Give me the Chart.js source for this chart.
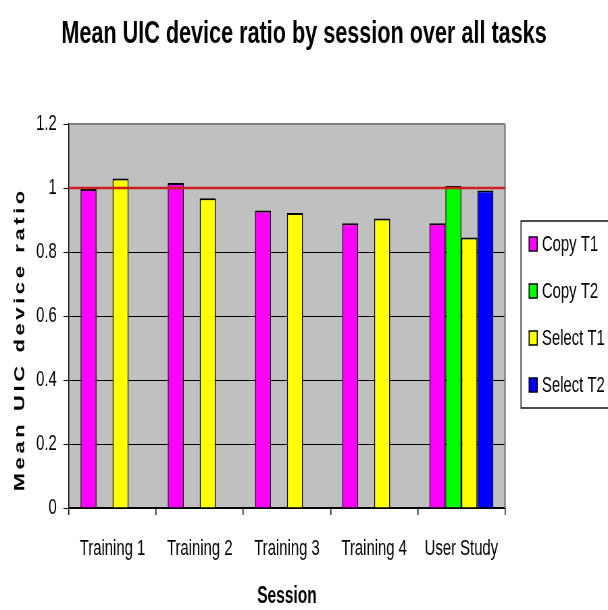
<!DOCTYPE html>
<html>
<head>
<meta charset="utf-8">
<script src="https://cdn.jsdelivr.net/npm/chart.js@4.4.1/dist/chart.umd.min.js"></script>
<style>
  html, body { margin: 0; padding: 0; background: #ffffff; }
</style>
</head>
<body>
<canvas id="chart" width="900" height="610" style="display:block;width:608px;height:610px"></canvas>
<script>
const sessions = ["Training 1", "Training 2", "Training 3", "Training 4", "User Study"];
const copyT1 = [0.997, 1.016, 0.93, 0.89, 0.89];
const copyT2 = [null, null, null, null, 1.006];
const selectT1 = [1.03, 0.968, 0.922, 0.905, 0.845];
const selectT2 = [null, null, null, null, 0.992];
const seriesNames = ["Copy T1", "Copy T2", "Select T1", "Select T2"];
const seriesColors = ["#ff00ff", "#00ff00", "#ffff00", "#0000ff"];
const referenceValue = 1;
const yMin = 0;
const yMax = 1.2;
const yStep = 0.2;

const chartTitle = "Mean UIC device ratio by session over all tasks";
const xTitle = "Session";
const yTitle = "Mean UIC device ratio";

// the reference is squeezed sideways, so the canvas is wider than the page
const SQUEEZE = 608 / 900;
const FONT = "'Liberation Sans', Arial, sans-serif";

const plotBackground = {
  id: "plotBackground",
  beforeDraw(chart) {
    const { ctx, chartArea } = chart;
    ctx.save();
    ctx.fillStyle = "#c0c0c0";
    ctx.fillRect(chartArea.left, chartArea.top, chartArea.width, chartArea.height);
    ctx.restore();
  },
  beforeDatasetsDraw(chart) {
    const { ctx, chartArea } = chart;
    ctx.save();
    ctx.strokeStyle = "#808080";
    ctx.lineWidth = 2;
    ctx.beginPath();
    ctx.moveTo(chartArea.left, chartArea.top);
    ctx.lineTo(chartArea.right, chartArea.top);
    ctx.stroke();
    ctx.lineWidth = 2.5;
    ctx.beginPath();
    ctx.moveTo(chartArea.right, chartArea.top);
    ctx.lineTo(chartArea.right, chartArea.bottom);
    ctx.stroke();
    ctx.restore();
  },
};

const referenceLine = {
  id: "referenceLine",
  afterDatasetsDraw(chart) {
    const { ctx, chartArea, scales } = chart;
    const y = scales.y.getPixelForValue(referenceValue);
    ctx.save();
    ctx.strokeStyle = "#cc1f1f";
    ctx.lineWidth = 2.5;
    ctx.beginPath();
    ctx.moveTo(chartArea.left, y);
    ctx.lineTo(chartArea.right, y);
    ctx.stroke();
    ctx.restore();
  },
};

// page title, centred on the whole picture (not on the plot)
const pageTitle = {
  id: "pageTitle",
  afterDraw(chart) {
    const { ctx, width } = chart;
    ctx.save();
    ctx.font = `bold 32px ${FONT}`;
    ctx.fillStyle = "#000";
    ctx.textAlign = "center";
    ctx.textBaseline = "alphabetic";
    ctx.fillText(chartTitle, width / 2, 43);
    ctx.restore();
  },
};

const spacedYTitle = {
  id: "spacedYTitle",
  afterDraw(chart) {
    const { ctx } = chart;
    const spacing = 3.6;
    ctx.save();
    ctx.font = `bold 22px ${FONT}`;
    ctx.fillStyle = "#000";
    ctx.textBaseline = "middle";
    ctx.textAlign = "left";
    ctx.translate(20 / SQUEEZE, 341);
    ctx.rotate(-Math.PI / 2);
    const chars = Array.from(yTitle);
    const widths = chars.map((c) => ctx.measureText(c).width);
    const total = widths.reduce((a, b) => a + b, 0) + spacing * (chars.length - 1);
    let x = -total / 2;
    chars.forEach((c, i) => {
      ctx.fillText(c, x, 0);
      x += widths[i] + spacing;
    });
    ctx.restore();
  },
};

const boxedLegend = {
  id: "boxedLegend",
  afterDraw(chart) {
    const { ctx } = chart;
    const left = 521 / SQUEEZE;
    const right = 910;
    const top = 221;
    const bottom = 408;
    ctx.save();
    ctx.strokeStyle = "#000";
    ctx.lineWidth = 1.4;
    ctx.strokeRect(left, top, right - left, bottom - top);
    ctx.font = `22px ${FONT}`;
    ctx.textBaseline = "middle";
    ctx.textAlign = "left";
    chart.data.datasets.forEach((ds, i) => {
      const y = top + 23 + 47 * i;
      ctx.fillStyle = ds.backgroundColor;
      ctx.fillRect(left + 12, y - 7, 12, 14);
      ctx.lineWidth = 1.5;
      ctx.strokeRect(left + 12, y - 7, 12, 14);
      ctx.fillStyle = "#000";
      ctx.fillText(ds.label, left + 31, y + 1);
    });
    ctx.restore();
  },
};

const seriesData = [copyT1, copyT2, selectT1, selectT2];

new Chart(document.getElementById("chart"), {
  type: "bar",
  data: {
    labels: sessions,
    datasets: seriesNames.map((name, i) => ({
      label: name,
      data: seriesData[i],
      backgroundColor: seriesColors[i],
      borderColor: "#000",
      borderWidth: { top: 2, left: 1.5, right: 1.5, bottom: 0 },
      borderSkipped: false,
      categoryPercentage: 0.734,
      barPercentage: 1,
    })),
  },
  options: {
    responsive: false,
    devicePixelRatio: 1,
    animation: false,
    layout: { padding: { left: 0, right: 152.5, top: 124, bottom: 0 } },
    plugins: {
      legend: { display: false },
      tooltip: { enabled: false },
      title: { display: false },
    },
    scales: {
      x: {
        afterFit(scale) {
          scale.height = 102;
        },
        grid: {
          offset: true,
          drawOnChartArea: false,
          drawTicks: true,
          tickLength: 7,
          color: "#000",
          lineWidth: 1.5,
        },
        border: { display: true, color: "#000", width: 1.5 },
        ticks: {
          color: "#000",
          padding: 21,
          maxRotation: 0,
          font: { family: FONT, size: 22 },
        },
        title: {
          display: true,
          text: xTitle,
          color: "#000",
          font: { family: FONT, size: 23, weight: "bold", lineHeight: 1.2 },
          padding: { top: 0, bottom: 0 },
        },
      },
      y: {
        min: yMin,
        max: yMax,
        afterFit(scale) {
          scale.width = 102;
        },
        grid: {
          color: (c) => (c.tick && c.tick.value === yMax ? "#808080" : "#000"),
          tickColor: "#000",
          lineWidth: 1,
          tickLength: 8,
        },
        border: { display: true, color: "#000", width: 1.5 },
        ticks: {
          stepSize: yStep,
          color: "#000",
          padding: 10,
          font: { family: FONT, size: 22 },
          callback: (v) => String(Number(v.toFixed(1))),
        },
      },
    },
  },
  plugins: [plotBackground, referenceLine, pageTitle, spacedYTitle, boxedLegend],
});
</script>
</body>
</html>
